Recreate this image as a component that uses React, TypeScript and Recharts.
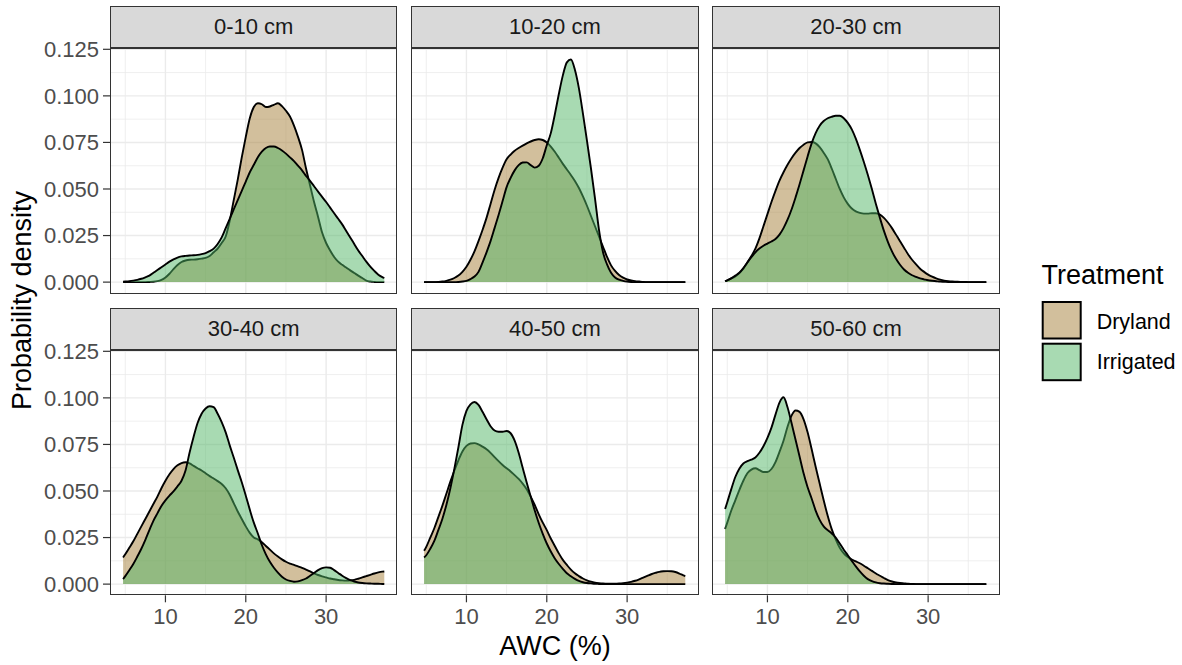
import React from 'react';
import { AreaChart, Area, XAxis, YAxis, CartesianGrid } from 'recharts';

// AWC (%) evaluation grid
const awc = [4.73,
  5, 5.5, 6, 6.5, 7, 7.5, 8, 8.5,
  9, 9.5, 10, 10.5, 11, 11.5, 12, 12.5,
  13, 13.5, 14, 14.5, 15, 15.5, 16, 16.5,
  17, 17.5, 18, 18.5, 19, 19.5, 20, 20.5,
  21, 21.5, 22, 22.5, 23, 23.5, 24, 24.5,
  25, 25.5, 26, 26.5, 27, 27.5, 28, 28.5,
  29, 29.5, 30, 30.5, 31, 31.5, 32, 32.5,
  33, 33.5, 34, 34.5, 35, 35.5, 36, 36.5,
  37, 37.24];

const depthLabels = ['0-10 cm', '10-20 cm', '20-30 cm', '30-40 cm', '40-50 cm', '50-60 cm'];
const treatments = ['Dryland', 'Irrigated'];

const dryland0to10 = [0,
  0, 0, 0, 0, 0, 0, 0.0001, 0.0002,
  0.0005, 0.0012, 0.0025, 0.0045, 0.007, 0.0092, 0.0108, 0.0116,
  0.012, 0.0121, 0.0123, 0.0126, 0.013, 0.014, 0.016, 0.018,
  0.021, 0.0245, 0.033, 0.044, 0.055, 0.067, 0.078, 0.088,
  0.094, 0.096, 0.0955, 0.094, 0.0943, 0.0952, 0.096, 0.0945,
  0.092, 0.0889, 0.084, 0.078, 0.071, 0.061, 0.052, 0.043,
  0.035, 0.0266, 0.021, 0.017, 0.0135, 0.011, 0.0093, 0.0078,
  0.0063, 0.0049, 0.0035, 0.0022, 0.0008, 0.0003, 0.0001, 0,
  0, 0];
const irrigated0to10 = [0.0002,
  0.0003, 0.0005, 0.0008, 0.0012, 0.0018, 0.0026, 0.0035, 0.005,
  0.0065, 0.008, 0.0095, 0.011, 0.0122, 0.0132, 0.0138, 0.0141,
  0.0143, 0.0144, 0.0146, 0.015, 0.0156, 0.0166, 0.018, 0.0205,
  0.024, 0.029, 0.034, 0.039, 0.044, 0.049, 0.054, 0.059,
  0.063, 0.067, 0.07, 0.072, 0.0728, 0.0728, 0.072, 0.0707,
  0.069, 0.067, 0.065, 0.0625, 0.06, 0.057, 0.0544, 0.0515,
  0.0486, 0.0458, 0.043, 0.04, 0.037, 0.034, 0.031, 0.0275,
  0.024, 0.0205, 0.017, 0.014, 0.011, 0.0083, 0.006, 0.004,
  0.0027, 0.0022];

const dryland10to20 = [0,
  0, 0, 0, 0.0001, 0.0003, 0.0007, 0.0013, 0.0022,
  0.0035, 0.0055, 0.0082, 0.012, 0.0165, 0.022, 0.028, 0.0345,
  0.042, 0.0495, 0.056, 0.0615, 0.066, 0.0685, 0.0705, 0.072,
  0.0733, 0.0745, 0.0755, 0.0763, 0.0767, 0.0763, 0.075, 0.0728,
  0.07, 0.0668, 0.0635, 0.0605, 0.0575, 0.0543, 0.0505, 0.046,
  0.041, 0.0355, 0.03, 0.0245, 0.019, 0.0135, 0.009, 0.006,
  0.0038, 0.0024, 0.0014, 0.0009, 0.0005, 0.0003, 0.0001, 0,
  0, 0, 0, 0, 0, 0, 0, 0,
  0, 0];
const irrigated10to20 = [0,
  0, 0, 0, 0, 0, 0, 0, 0,
  0.0001, 0.0003, 0.0007, 0.0016, 0.003, 0.0055, 0.0105, 0.016,
  0.022, 0.029, 0.036, 0.0435, 0.051, 0.056, 0.06, 0.0628,
  0.0642, 0.0643, 0.0628, 0.0615, 0.0625, 0.0665, 0.0735, 0.08,
  0.09, 0.101, 0.111, 0.118, 0.1195, 0.114, 0.104, 0.0905,
  0.076, 0.061, 0.045, 0.028, 0.016, 0.0095, 0.005, 0.0025,
  0.0013, 0.0007, 0.0003, 0.0001, 0, 0, 0, 0,
  0, 0, 0, 0, 0, 0, 0, 0,
  0, 0];

const dryland20to30 = [0.0005,
  0.001, 0.002, 0.003, 0.0048, 0.0072, 0.0105, 0.014, 0.018,
  0.0235, 0.03, 0.0365, 0.043, 0.049, 0.0545, 0.059, 0.063,
  0.0665, 0.0695, 0.072, 0.0738, 0.075, 0.0752, 0.0745, 0.0725,
  0.0695, 0.066, 0.061, 0.0555, 0.05, 0.0455, 0.042, 0.0395,
  0.038, 0.0372, 0.0368, 0.0368, 0.037, 0.037, 0.0362, 0.0345,
  0.032, 0.029, 0.0255, 0.022, 0.0185, 0.015, 0.012, 0.0095,
  0.0072, 0.0055, 0.004, 0.0029, 0.002, 0.0013, 0.0008, 0.0005,
  0.0003, 0.0002, 0.0001, 0.0001, 0, 0, 0, 0,
  0, 0];
const irrigated20to30 = [0.0005,
  0.001, 0.002, 0.0035, 0.005, 0.0075, 0.0105, 0.0134, 0.016,
  0.018, 0.0195, 0.0207, 0.0218, 0.0232, 0.0255, 0.029, 0.0335,
  0.039, 0.0455, 0.0525, 0.06, 0.0675, 0.0745, 0.08, 0.084,
  0.0865, 0.088, 0.0888, 0.0893, 0.0893, 0.088, 0.0855, 0.082,
  0.077, 0.071, 0.0645, 0.0575, 0.05, 0.042, 0.0345, 0.0275,
  0.0215, 0.0165, 0.0125, 0.0093, 0.0068, 0.005, 0.0037, 0.0028,
  0.002, 0.0015, 0.001, 0.0007, 0.0005, 0.0003, 0.0002, 0.0001,
  0.0001, 0, 0, 0, 0, 0, 0, 0,
  0, 0];

const dryland30to40 = [0.0143,
  0.016, 0.0195, 0.023, 0.027, 0.031, 0.035, 0.039, 0.043,
  0.047, 0.0515, 0.0555, 0.059, 0.0618, 0.0638, 0.065, 0.0654,
  0.0648, 0.0635, 0.0622, 0.061, 0.0595, 0.058, 0.0567, 0.0553,
  0.0538, 0.0515, 0.048, 0.0435, 0.039, 0.035, 0.031, 0.0275,
  0.025, 0.024, 0.0225, 0.0205, 0.0185, 0.0165, 0.0148, 0.0133,
  0.012, 0.011, 0.0103, 0.0095, 0.0087, 0.0078, 0.0068, 0.0058,
  0.0049, 0.0042, 0.0036, 0.003, 0.0026, 0.0022, 0.002, 0.0019,
  0.002, 0.0023, 0.0029, 0.0036, 0.0043, 0.005, 0.0057, 0.0063,
  0.0067, 0.0068];
const irrigated30to40 = [0.0027,
  0.0043, 0.0075, 0.0108, 0.0148, 0.019, 0.0238, 0.029, 0.034,
  0.038, 0.042, 0.045, 0.0475, 0.0498, 0.0525, 0.0555, 0.061,
  0.0705, 0.079, 0.0865, 0.0915, 0.0943, 0.0955, 0.095, 0.0915,
  0.087, 0.0815, 0.0745, 0.068, 0.0612, 0.0547, 0.0475, 0.04,
  0.033, 0.0272, 0.021, 0.016, 0.012, 0.0088, 0.0062, 0.004,
  0.0025, 0.0017, 0.0013, 0.0015, 0.0021, 0.003, 0.0045, 0.006,
  0.0075, 0.0086, 0.009, 0.0088, 0.0075, 0.006, 0.0045, 0.0032,
  0.0021, 0.0014, 0.0009, 0.0006, 0.0004, 0.0003, 0.0002, 0.0002,
  0.0001, 0.0001];

const dryland40to50 = [0.0179,
  0.02, 0.025, 0.03, 0.036, 0.042, 0.0485, 0.055, 0.061,
  0.0665, 0.0712, 0.0742, 0.0755, 0.0757, 0.075, 0.0738, 0.0724,
  0.0705, 0.0682, 0.066, 0.064, 0.0622, 0.0605, 0.0585, 0.0565,
  0.054, 0.051, 0.047, 0.0425, 0.0375, 0.033, 0.029, 0.0245,
  0.0205, 0.0165, 0.013, 0.0103, 0.0078, 0.0058, 0.0043, 0.003,
  0.002, 0.0013, 0.0008, 0.0005, 0.0003, 0.0002, 0.0002, 0.0002,
  0.0003, 0.0005, 0.0008, 0.0012, 0.0018, 0.0026, 0.0035, 0.0044,
  0.0053, 0.006, 0.0066, 0.0069, 0.007, 0.0069, 0.0065, 0.0057,
  0.0047, 0.0043];
const irrigated40to50 = [0.0143,
  0.0155, 0.019, 0.0232, 0.029, 0.035, 0.0425, 0.0515, 0.062,
  0.0735, 0.0855, 0.093, 0.0965, 0.0978, 0.0962, 0.0925, 0.0885,
  0.0848, 0.0825, 0.0818, 0.0818, 0.0822, 0.081, 0.077, 0.0705,
  0.0625, 0.0545, 0.047, 0.0395, 0.0328, 0.027, 0.0218, 0.0175,
  0.0138, 0.0108, 0.0082, 0.0058, 0.0042, 0.0028, 0.0017, 0.001,
  0.0006, 0.0004, 0.0002, 0.0001, 0, 0, 0, 0,
  0, 0, 0, 0, 0, 0, 0, 0,
  0, 0, 0, 0, 0, 0, 0, 0,
  0, 0];

const dryland50to60 = [0.0296,
  0.033, 0.0395, 0.045, 0.0505, 0.0555, 0.0595, 0.0615, 0.0622,
  0.0612, 0.0602, 0.0602, 0.0618, 0.0655, 0.071, 0.077, 0.0845,
  0.0905, 0.0932, 0.0925, 0.0885, 0.0815, 0.0725, 0.063, 0.054,
  0.045, 0.0367, 0.0295, 0.024, 0.0195, 0.0165, 0.0145, 0.0132,
  0.0122, 0.0112, 0.0099, 0.0085, 0.0071, 0.0057, 0.0045, 0.0033,
  0.0022, 0.0014, 0.0009, 0.0006, 0.0004, 0.0002, 0.0001, 0,
  0, 0, 0, 0, 0, 0, 0, 0,
  0, 0, 0, 0, 0, 0, 0, 0,
  0, 0];
const irrigated50to60 = [0.0403,
  0.044, 0.051, 0.0575, 0.062, 0.0648, 0.066, 0.0668, 0.068,
  0.0705, 0.074, 0.0785, 0.084, 0.091, 0.0975, 0.1003, 0.095,
  0.0865, 0.0775, 0.0685, 0.0595, 0.052, 0.046, 0.0395, 0.0345,
  0.031, 0.029, 0.0272, 0.025, 0.0218, 0.0185, 0.0155, 0.0125,
  0.0095, 0.0068, 0.0045, 0.0027, 0.0016, 0.0009, 0.0005, 0.0003,
  0.0002, 0.0001, 0, 0, 0, 0, 0, 0,
  0, 0, 0, 0, 0, 0, 0, 0,
  0, 0, 0, 0, 0, 0, 0, 0,
  0, 0];

const xMajorTicks = [10, 20, 30];
const xMinorTicks = [5, 15, 25, 35];
const yMajorTicks = [0, 0.025, 0.05, 0.075, 0.1, 0.125];
const yMinorTicks = [0.0125, 0.0375, 0.0625, 0.0875, 0.1125];

const xTitle = 'AWC (%)';
const yTitle = 'Probability density';
const legendTitle = 'Treatment';

// styling / layout
const FONT = "'Liberation Sans', Arial, Helvetica, sans-serif";
const X_DOMAIN = [3.1, 38.87];
const Y_DOMAIN = [-0.006, 0.1257];
const PLOT_LEFTS = [110, 411.2, 712.4];
const PLOT_TOPS = [48.3, 349.5];
const PLOT_W = 287.4;
const PLOT_H = 245.3;
const STRIP_H = 42;
const Y_AXIS_W = 110;
const X_AXIS_H = 50;
const PAD = 15;
const FILLS = { Dryland: '#A57F39', Irrigated: '#51B565' };

const panelSeries = [
  [dryland0to10, irrigated0to10],
  [dryland10to20, irrigated10to20],
  [dryland20to30, irrigated20to30],
  [dryland30to40, irrigated30to40],
  [dryland40to50, irrigated40to50],
  [dryland50to60, irrigated50to60],
];

function Panel({ index }: { index: number }) {
  const col = index % 3;
  const row = Math.floor(index / 3);
  const showY = col === 0;
  const showX = row === 1;
  const leftPad = showY ? Y_AXIS_W : 0;
  const [dry, irr] = panelSeries[index];
  const data = awc.map((x, i) => ({ x, Dryland: dry[i], Irrigated: irr[i] }));
  const plotLeft = PLOT_LEFTS[col];
  const plotTop = PLOT_TOPS[row];
  return (
    <>
      <div style={{ position: 'absolute', left: plotLeft - leftPad, top: plotTop - PAD }}>
        <AreaChart
          width={PLOT_W + leftPad}
          height={PLOT_H + PAD + (showX ? X_AXIS_H : PAD)}
          data={data}
          margin={{ top: PAD, right: 0, bottom: showX ? 0 : PAD, left: 0 }}
        >
          <CartesianGrid stroke="#EBEBEB" strokeWidth={0.8} verticalValues={xMinorTicks} horizontalValues={yMinorTicks} />
          <CartesianGrid stroke="#EBEBEB" strokeWidth={1.4} verticalValues={xMajorTicks} horizontalValues={yMajorTicks} />
          <XAxis
            type="number"
            dataKey="x"
            domain={X_DOMAIN}
            ticks={xMajorTicks}
            interval={0}
            allowDataOverflow
            hide={!showX}
            height={X_AXIS_H}
            axisLine={false}
            tickSize={7}
            tickMargin={6}
            tickLine={{ stroke: '#333333', strokeWidth: 1.2 }}
            tick={{ fill: '#4D4D4D', fontSize: 22, fontFamily: FONT }}
          />
          <YAxis
            type="number"
            domain={Y_DOMAIN}
            ticks={yMajorTicks}
            interval={0}
            allowDataOverflow
            hide={!showY}
            width={Y_AXIS_W}
            axisLine={false}
            tickSize={7}
            tickMargin={4}
            tickLine={{ stroke: '#333333', strokeWidth: 1.2 }}
            tick={{ fill: '#4D4D4D', fontSize: 22, fontFamily: FONT }}
            tickFormatter={(v: number) => v.toFixed(3)}
          />
          {treatments.map((t) => (
            <Area
              key={t}
              dataKey={t}
              type="monotone"
              baseValue={0}
              stroke="#000000"
              strokeWidth={1.9}
              fill={FILLS[t as 'Dryland' | 'Irrigated']}
              fillOpacity={0.5}
              isAnimationActive={false}
              dot={false}
              activeDot={false}
            />
          ))}
        </AreaChart>
      </div>
      <div
        style={{
          position: 'absolute',
          left: plotLeft,
          top: plotTop - STRIP_H,
          width: PLOT_W,
          height: STRIP_H,
          boxSizing: 'border-box',
          background: '#D9D9D9',
          border: '1.5px solid #333333',
          display: 'flex',
          alignItems: 'center',
          justifyContent: 'center',
          fontFamily: FONT,
          fontSize: 22,
          color: '#1A1A1A',
        }}
      >
        {depthLabels[index]}
      </div>
      <div
        style={{
          position: 'absolute',
          left: plotLeft,
          top: plotTop,
          width: PLOT_W,
          height: PLOT_H,
          boxSizing: 'border-box',
          border: '1.5px solid #333333',
          pointerEvents: 'none',
        }}
      />
    </>
  );
}

export default function App() {
  return (
    <div
      style={{
        position: 'absolute',
        left: 0,
        top: 0,
        width: 1182,
        height: 665,
        background: '#FFFFFF',
        overflow: 'hidden',
        fontFamily: FONT,
      }}
    >
      {depthLabels.map((_, i) => (
        <Panel key={i} index={i} />
      ))}
      <svg
        width={1182}
        height={665}
        style={{ position: 'absolute', left: 0, top: 0, pointerEvents: 'none' }}
        fontFamily={FONT}
      >
        <text x={555} y={655} textAnchor="middle" fontSize={27} fill="#000">
          {xTitle}
        </text>
        <text transform="translate(30.5,300.5) rotate(-90)" textAnchor="middle" fontSize={27} fill="#000">
          {yTitle}
        </text>
        <text x={1041.5} y={284} fontSize={27} fill="#000">
          {legendTitle}
        </text>
        {treatments.map((t, i) => (
          <g key={t}>
            <rect
              x={1042.7}
              y={302 + i * 41.7}
              width={38}
              height={36.5}
              fill={FILLS[t as 'Dryland' | 'Irrigated']}
              fillOpacity={0.5}
              stroke="#000"
              strokeWidth={2}
            />
            <text x={1096.7} y={329.2 + i * 40} fontSize={21.5} fill="#000">
              {t}
            </text>
          </g>
        ))}
      </svg>
    </div>
  );
}
